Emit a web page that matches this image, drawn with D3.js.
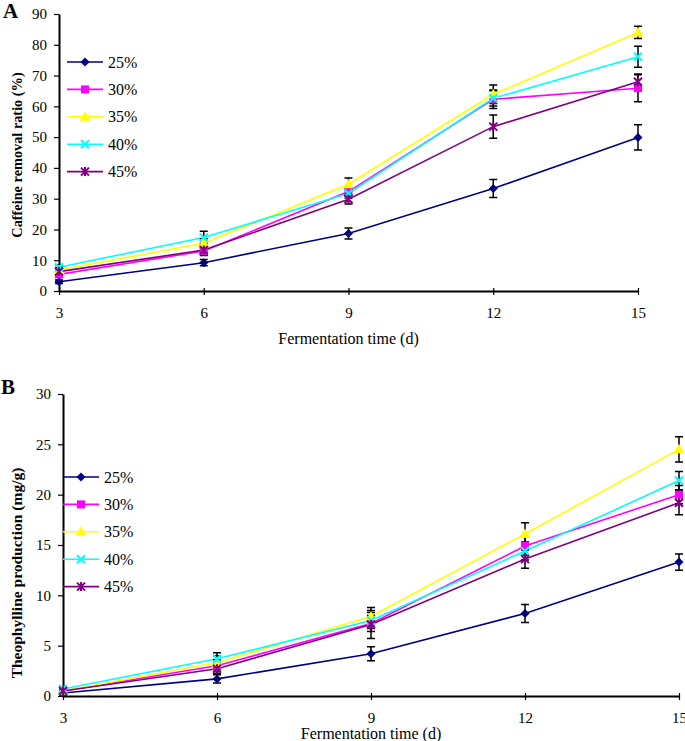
<!DOCTYPE html>
<html>
<head>
<meta charset="utf-8">
<script src="https://cdn.jsdelivr.net/npm/d3@7"></script>
<style>
  body { margin: 0; background: #fff; }
  svg { display: block; font-family: "Liberation Serif", "Times New Roman", serif; }
</style>
</head>
<body>
<svg id="chart" width="685" height="741"></svg>
<script>
const days = [3, 6, 9, 12, 15];
const groups = ["25%", "30%", "35%", "40%", "45%"];
const colors = ["#000080", "#ff00ff", "#ffff00", "#00ffff", "#800080"];
const shapes = ["diamond", "square", "triangle", "x", "star"];

// panel A: caffeine removal ratio (%)
const caffeine = [
  [3.0, 9.2, 18.7, 33.3, 49.9],
  [5.4, 13.0, 32.3, 62.3, 65.9],
  [6.8, 15.5, 34.7, 63.9, 84.0],
  [7.7, 17.4, 31.7, 62.6, 76.1],
  [6.3, 13.3, 29.8, 53.4, 68.0]
];
const caffeineErr = [
  [0.6, 1.0, 1.8, 2.9, 4.1],
  [0.8, 1.5, 1.5, 3.0, 4.4],
  [0.8, 1.5, 2.0, 3.0, 2.0],
  [0.8, 2.0, 1.5, 2.5, 3.4],
  [0.8, 1.5, 1.5, 3.8, 2.5]
];

// panel B: theophylline production (mg/g)
const theophylline = [
  [0.3, 1.7, 4.2, 8.2, 13.3],
  [0.5, 3.0, 7.2, 14.9, 20.0],
  [0.5, 3.3, 7.9, 16.1, 24.5],
  [0.7, 3.7, 7.5, 14.4, 21.4],
  [0.5, 2.7, 7.1, 13.6, 19.2]
];
const theophyllineErr = [
  [0.2, 0.4, 0.7, 0.9, 0.8],
  [0.2, 0.6, 0.8, 0.9, 0.9],
  [0.2, 0.7, 0.9, 1.1, 1.25],
  [0.2, 0.6, 0.8, 0.9, 0.9],
  [0.2, 0.5, 1.4, 0.9, 1.2]
];

const svg = d3.select("#chart");

function marker(g, shape, color, x, y) {
  const s = 4.5;
  if (shape === "diamond") {
    g.append("path").attr("d", `M${x},${y - s}L${x + s},${y}L${x},${y + s}L${x - s},${y}Z`)
      .attr("fill", color);
  } else if (shape === "square") {
    g.append("rect").attr("x", x - 4).attr("y", y - 4).attr("width", 8).attr("height", 8)
      .attr("fill", color);
  } else if (shape === "triangle") {
    g.append("path").attr("d", `M${x},${y - 5.5}L${x + 5.5},${y + 4}L${x - 5.5},${y + 4}Z`)
      .attr("fill", color);
  } else if (shape === "x") {
    g.append("path").attr("d", `M${x - 4},${y - 4}L${x + 4},${y + 4}M${x + 4},${y - 4}L${x - 4},${y + 4}`)
      .attr("stroke", color).attr("stroke-width", 2);
  } else {
    g.append("path").attr("d", `M${x - 4},${y - 4}L${x + 4},${y + 4}M${x + 4},${y - 4}L${x - 4},${y + 4}M${x},${y - 4.5}L${x},${y + 4.5}`)
      .attr("stroke", color).attr("stroke-width", 2);
  }
}

function drawPanel(opt) {
  const { values, errors, x, y, letter, letterPos, yTitle, yTitlePos, yTitleSize, yTicks, legendX, legendY, xTitleY } = opt;
  const g = svg.append("g");

  // x axis, ticks crossing the line
  const xAxis = g.append("g")
    .attr("transform", `translate(0,${y.range()[0]})`)
    .call(d3.axisBottom(x).tickValues(days).tickSize(4).tickPadding(12).tickSizeOuter(0));
  xAxis.selectAll(".tick line").attr("y1", -3).attr("stroke-width", 1.2);
  xAxis.select(".domain").attr("stroke-width", 2);
  xAxis.selectAll("text").attr("font-size", 15).attr("font-family", "Liberation Serif").attr("fill", "#000");

  const yAxis = g.append("g")
    .attr("transform", `translate(${x.range()[0]},0)`)
    .call(d3.axisLeft(y).tickValues(yTicks).tickSize(5).tickPadding(7).tickSizeOuter(0));
  yAxis.select(".domain").attr("stroke-width", 2);
  yAxis.selectAll(".tick line").attr("stroke-width", 1.2);
  yAxis.selectAll("text").attr("font-size", 15).attr("font-family", "Liberation Serif").attr("fill", "#000");

  // series lines
  const line = d3.line().x((d, i) => x(days[i])).y(d => y(d));
  values.forEach((vals, k) => {
    g.append("path").datum(vals).attr("d", line)
      .attr("fill", "none").attr("stroke", colors[k]).attr("stroke-width", 1.6);
  });

  // error bars
  values.forEach((vals, k) => {
    vals.forEach((v, i) => {
      const cx = x(days[i]);
      const top = y(v + errors[k][i]);
      const bot = y(v - errors[k][i]);
      g.append("path")
        .attr("d", `M${cx},${top}L${cx},${bot}M${cx - 4},${top}L${cx + 4},${top}M${cx - 4},${bot}L${cx + 4},${bot}`)
        .attr("stroke", "#000").attr("stroke-width", 1.5).attr("fill", "none");
    });
  });

  // markers
  values.forEach((vals, k) => {
    vals.forEach((v, i) => marker(g, shapes[k], colors[k], x(days[i]), y(v)));
  });

  // legend
  groups.forEach((name, k) => {
    const ly = legendY + k * 27.4;
    g.append("line").attr("x1", legendX).attr("x2", legendX + 36).attr("y1", ly).attr("y2", ly)
      .attr("stroke", colors[k]).attr("stroke-width", 1.6);
    marker(g, shapes[k], colors[k], legendX + 18, ly);
    g.append("text").attr("x", legendX + 41).attr("y", ly + 5.5)
      .attr("font-size", 16).text(name);
  });

  // titles
  g.append("text")
    .attr("x", (x.range()[0] + x.range()[1]) / 2).attr("y", xTitleY)
    .attr("text-anchor", "middle").attr("font-size", 16)
    .text("Fermentation time (d)");
  g.append("text")
    .attr("transform", `translate(${yTitlePos[0]},${yTitlePos[1]}) rotate(-90)`)
    .attr("text-anchor", "middle").attr("font-size", yTitleSize).attr("font-weight", "bold")
    .text(yTitle);
  g.append("text").attr("x", letterPos[0]).attr("y", letterPos[1])
    .attr("font-size", 21).attr("font-weight", "bold").text(letter);
}

drawPanel({
  values: caffeine,
  errors: caffeineErr,
  x: d3.scaleLinear().domain([3, 15]).range([59, 638]),
  y: d3.scaleLinear().domain([0, 90]).range([291, 14]),
  yTicks: d3.range(0, 91, 10),
  letter: "A", letterPos: [3, 18],
  yTitle: "Caffeine removal ratio (%)", yTitlePos: [22, 155], yTitleSize: 14.3,
  legendX: 67, legendY: 62,
  xTitleY: 344
});

drawPanel({
  values: theophylline,
  errors: theophyllineErr,
  x: d3.scaleLinear().domain([3, 15]).range([63, 679]),
  y: d3.scaleLinear().domain([0, 30]).range([696, 394]),
  yTicks: d3.range(0, 31, 5),
  letter: "B", letterPos: [1, 394],
  yTitle: "Theophylline production (mg/g)", yTitlePos: [22, 573], yTitleSize: 15.5,
  legendX: 63, legendY: 477,
  xTitleY: 739
});
</script>
</body>
</html>
